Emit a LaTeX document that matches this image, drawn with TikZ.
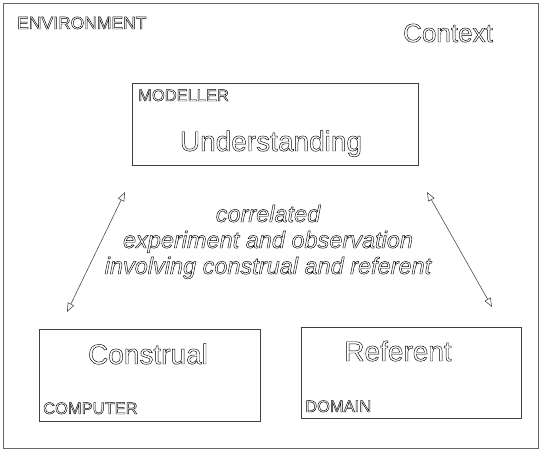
\documentclass[tikz,border=0pt]{standalone}
\usepackage{fontspec}
\setmainfont{Liberation Sans}
\usetikzlibrary{arrows.meta}
% outlined lettering
\newcommand\hollow[1]{\special{pdf:literal direct q 1 Tr 0.45 w}#1\special{pdf:literal direct Q}}
\begin{document}
\begin{tikzpicture}[x=1pt,y=-1pt]

  % Definitions
  \tikzstyle{agent} = [rectangle, draw=black!75, line width=0.8pt, inner sep=0pt]
  \tikzstyle{tag} = [inner sep=0pt, font=\fontsize{16.5}{18}\selectfont]
  \tikzstyle{title} = [inner sep=0pt, font=\fontsize{28}{30}\selectfont]
  \tikzstyle{arrow} = [black!70, line width=0.6pt, {Triangle[open,length=9pt,width=7pt]}-{Triangle[open,length=9pt,width=7pt]}]

  \useasboundingbox (0,0) rectangle (541,451);
  \draw [black!60, line width=0.8pt] (3,3) rectangle (538,448);

  \node (envtag) [tag, anchor=base west, font=\fontsize{17.5}{19}\selectfont] at (17,29) {\hollow{ENVIRONMENT}};
  \node (context) [title, anchor=base east, font=\fontsize{26}{28}\selectfont] at (493,42) {\hollow{Context}};

  \node (modeller) [agent, minimum width=286pt, minimum height=82pt] at (275,124) {};
  \node (computer) [agent, minimum width=221pt, minimum height=92pt] at (149.5,375) {};
  \node (domain) [agent, minimum width=220pt, minimum height=91pt] at (411,372.5) {};

  \node (modtag) [tag, anchor=base west] at (138,101) {\hollow{MODELLER}};
  \node (understanding) [title, anchor=base] at (271,151) {\hollow{Understanding}};
  \node (comptag) [tag, anchor=base west] at (43,414) {\hollow{COMPUTER}};
  \node (construal) [title, anchor=base] at (148,364) {\hollow{Construal}};
  \node (domtag) [tag, anchor=base west] at (305,412) {\hollow{DOMAIN}};
  \node (referent) [title, anchor=base] at (398,361) {\hollow{Referent}};

  \node (relation) [inner sep=0pt, anchor=base, align=center,
    font=\fontsize{23.5}{26}\selectfont\itshape] at (268,274)
    {\hollow{correlated}\\ \hollow{experiment and observation}\\ \hollow{involving construal and referent}};

  \coordinate (lefttop) at (125,192);
  \coordinate (leftbot) at (67,312);
  \coordinate (righttop) at (427,192);
  \coordinate (rightbot) at (492,307);

  \draw [arrow] (lefttop) -- (leftbot);
  \draw [arrow] (righttop) -- (rightbot);

\end{tikzpicture}
\end{document}
